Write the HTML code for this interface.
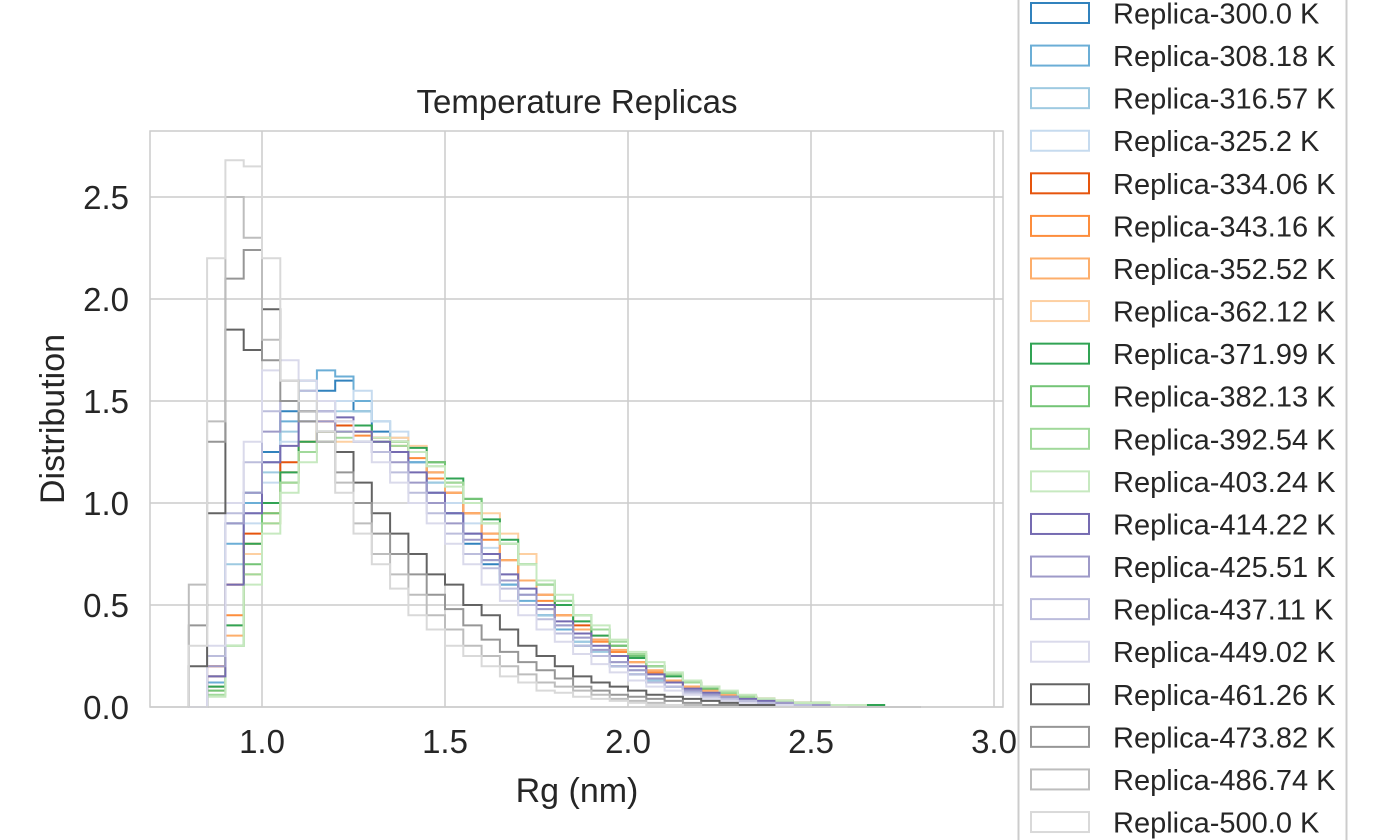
<!DOCTYPE html>
<html><head><meta charset="utf-8"><style>
body{margin:0;background:#fff;}
svg{display:block;font-family:"Liberation Sans",Arial,sans-serif;}
</style></head><body>
<svg id="chart" width="1386" height="840" xmlns="http://www.w3.org/2000/svg">
<text x="577" y="113" font-size="33" text-anchor="middle" fill="#262626">Temperature Replicas</text>
<g id="grid"></g>
<g id="series"></g>
<rect x="150" y="131" width="853" height="576" fill="none" stroke="#cccccc" stroke-width="1.5"/>
<g id="ticks"></g>
<text x="577" y="802" font-size="34" text-anchor="middle" fill="#262626">Rg (nm)</text>
<text transform="translate(64,419) rotate(-90)" font-size="34" text-anchor="middle" fill="#262626">Distribution</text>
<g id="legend">
<rect x="1018.5" y="-20" width="328" height="880" fill="#fff" stroke="#cccccc" stroke-width="2"/>
</g>
</svg>
<script>
const binStart = 0.8;
const binWidth = 0.05;
const xTicks = [1.0, 1.5, 2.0, 2.5, 3.0];
const yTicks = [0.0, 0.5, 1.0, 1.5, 2.0, 2.5];
const labels = ["Replica-300.0 K","Replica-308.18 K","Replica-316.57 K","Replica-325.2 K","Replica-334.06 K","Replica-343.16 K","Replica-352.52 K","Replica-362.12 K","Replica-371.99 K","Replica-382.13 K","Replica-392.54 K","Replica-403.24 K","Replica-414.22 K","Replica-425.51 K","Replica-437.11 K","Replica-449.02 K","Replica-461.26 K","Replica-473.82 K","Replica-486.74 K","Replica-500.0 K"];
const colors = ["#3182bd","#6baed6","#9ecae1","#c6dbef","#e6550d","#fd8d3c","#fdae6b","#fdd0a2","#31a354","#74c476","#a1d99b","#c7e9c0","#756bb1","#9e9ac8","#bcbddc","#dadaeb","#636363","#969696","#bdbdbd","#d9d9d9"];
const s300 = [0,0.15,0.9,1.05,1.25,1.45,1.6,1.55,1.6,1.45,1.35,1.3,1.2,1.05,0.95,0.8,0.7,0.6,0.5,0.45,0.38,0.3,0.25,0.2,0.16,0.12,0.1,0.08,0.06,0.05,0.04,0.03,0.02,0.01,0.01,0,0,0,0,0];
const s308 = [0,0.12,0.8,1.0,1.2,1.4,1.55,1.65,1.62,1.5,1.4,1.3,1.2,1.1,0.95,0.85,0.72,0.6,0.52,0.45,0.38,0.32,0.25,0.2,0.16,0.12,0.1,0.08,0.06,0.05,0.03,0.02,0.02,0.01,0.01,0,0,0,0,0];
const s316 = [0,0.1,0.7,0.95,1.15,1.35,1.45,1.5,1.45,1.45,1.4,1.32,1.25,1.1,1.0,0.85,0.75,0.62,0.55,0.45,0.4,0.32,0.27,0.22,0.18,0.13,0.1,0.08,0.06,0.05,0.03,0.02,0.02,0.01,0.01,0,0,0,0,0];
const s325 = [0,0.08,0.6,0.9,1.1,1.3,1.4,1.45,1.5,1.55,1.4,1.35,1.25,1.15,1.0,0.9,0.78,0.65,0.55,0.48,0.4,0.34,0.28,0.22,0.18,0.14,0.1,0.08,0.06,0.05,0.04,0.02,0.02,0.01,0.01,0,0,0,0,0];
const s334 = [0,0.2,0.6,0.85,1.0,1.2,1.3,1.4,1.38,1.35,1.32,1.3,1.25,1.15,1.05,0.95,0.85,0.72,0.62,0.55,0.45,0.4,0.33,0.27,0.22,0.17,0.13,0.1,0.08,0.06,0.05,0.04,0.03,0.02,0.02,0.01,0.01,0,0,0];
const s343 = [0,0.15,0.45,0.8,0.95,1.15,1.3,1.35,1.4,1.33,1.3,1.28,1.22,1.12,1.05,0.95,0.82,0.72,0.62,0.52,0.45,0.38,0.32,0.27,0.22,0.17,0.13,0.1,0.08,0.06,0.05,0.04,0.03,0.02,0.01,0.01,0.01,0,0,0];
const s352 = [0,0.1,0.35,0.65,0.9,1.1,1.25,1.3,1.35,1.35,1.3,1.3,1.25,1.15,1.05,0.95,0.85,0.72,0.62,0.55,0.45,0.38,0.33,0.28,0.22,0.18,0.13,0.1,0.08,0.06,0.05,0.04,0.03,0.02,0.01,0.01,0.01,0,0,0];
const s362 = [0,0.08,0.4,0.75,0.95,1.15,1.3,1.35,1.3,1.35,1.3,1.32,1.28,1.2,1.1,1.0,0.95,0.85,0.75,0.6,0.5,0.42,0.35,0.3,0.25,0.2,0.15,0.12,0.1,0.07,0.05,0.04,0.03,0.02,0.02,0.01,0.01,0,0,0];
const s371 = [0,0.1,0.4,0.8,1.0,1.15,1.3,1.35,1.35,1.38,1.3,1.3,1.27,1.2,1.12,1.02,0.92,0.82,0.7,0.6,0.5,0.42,0.35,0.3,0.24,0.2,0.15,0.12,0.09,0.07,0.05,0.04,0.03,0.02,0.02,0.01,0.01,0.01,0,0];
const s382 = [0,0.08,0.3,0.7,0.95,1.1,1.25,1.3,1.35,1.3,1.3,1.3,1.25,1.2,1.1,1.02,0.9,0.8,0.7,0.62,0.52,0.45,0.38,0.3,0.25,0.2,0.16,0.12,0.09,0.07,0.05,0.04,0.03,0.02,0.02,0.01,0.01,0,0,0];
const s392 = [0,0.06,0.3,0.65,0.9,1.1,1.25,1.3,1.32,1.35,1.3,1.28,1.25,1.18,1.1,1.0,0.9,0.8,0.7,0.6,0.52,0.45,0.38,0.32,0.26,0.2,0.16,0.12,0.1,0.07,0.05,0.04,0.03,0.02,0.02,0.01,0.01,0,0,0];
const s403 = [0,0.05,0.3,0.6,0.85,1.05,1.2,1.3,1.35,1.35,1.32,1.3,1.25,1.18,1.08,1.0,0.9,0.8,0.7,0.62,0.55,0.45,0.4,0.33,0.27,0.22,0.17,0.13,0.1,0.08,0.06,0.04,0.03,0.02,0.02,0.01,0.01,0,0,0];
const s414 = [0,0.15,0.6,0.95,1.2,1.28,1.4,1.45,1.42,1.35,1.3,1.25,1.15,1.05,0.95,0.85,0.75,0.65,0.58,0.5,0.42,0.36,0.3,0.25,0.2,0.16,0.12,0.09,0.07,0.05,0.04,0.03,0.02,0.01,0.01,0,0,0,0,0];
const s425 = [0,0.2,0.9,1.05,1.35,1.5,1.45,1.4,1.35,1.3,1.25,1.2,1.1,1.0,0.9,0.82,0.72,0.62,0.55,0.48,0.4,0.34,0.28,0.22,0.18,0.14,0.1,0.08,0.06,0.05,0.03,0.02,0.02,0.01,0.01,0,0,0,0,0];
const s437 = [0,0.25,0.95,1.2,1.45,1.5,1.55,1.45,1.4,1.3,1.25,1.15,1.05,0.95,0.85,0.75,0.68,0.58,0.5,0.43,0.36,0.3,0.25,0.2,0.16,0.12,0.1,0.07,0.05,0.04,0.03,0.02,0.01,0.01,0,0,0,0,0,0];
const s449 = [0,0.3,1.0,1.3,1.65,1.7,1.6,1.5,1.4,1.3,1.2,1.1,1.0,0.9,0.8,0.7,0.6,0.52,0.45,0.38,0.32,0.26,0.21,0.17,0.13,0.1,0.08,0.06,0.04,0.03,0.02,0.01,0.01,0,0,0,0,0,0,0];
const s461 = [0.2,0.95,1.85,1.75,1.95,1.6,1.45,1.35,1.25,1.1,0.95,0.85,0.75,0.65,0.6,0.5,0.45,0.38,0.3,0.25,0.2,0.15,0.12,0.1,0.08,0.06,0.05,0.04,0.03,0.02,0.01,0.01,0,0,0,0,0,0,0,0];
const s473 = [0.4,1.3,2.1,2.24,1.7,1.5,1.4,1.3,1.15,1.0,0.85,0.75,0.65,0.55,0.48,0.4,0.33,0.27,0.22,0.18,0.14,0.1,0.08,0.06,0.05,0.04,0.03,0.02,0.01,0.01,0,0,0,0,0,0,0,0,0,0];
const s486 = [0.6,1.4,2.5,2.3,1.8,1.6,1.45,1.3,1.1,0.9,0.75,0.65,0.55,0.45,0.38,0.3,0.25,0.2,0.16,0.12,0.1,0.08,0.06,0.04,0.03,0.02,0.01,0.01,0,0,0,0,0,0,0,0,0,0,0,0];
const s500 = [0.3,2.2,2.68,2.65,2.2,1.6,1.5,1.35,1.05,0.85,0.7,0.58,0.45,0.38,0.3,0.25,0.2,0.15,0.12,0.08,0.07,0.05,0.04,0.03,0.02,0.01,0.01,0,0,0,0,0,0,0,0,0];
const seriesList = [s300,s308,s316,s325,s334,s343,s352,s362,s371,s382,s392,s403,s414,s425,s437,s449,s461,s473,s486,s500];

const NS = "http://www.w3.org/2000/svg";
function xS(v){ return 262 + (v - 1.0) * 366; }
function yS(v){ return 707 - v * 204; }
const grid = document.getElementById('grid');
const ticks = document.getElementById('ticks');
xTicks.forEach(t => {
  const l = document.createElementNS(NS,'line');
  
  
  l.setAttribute('x1',xS(t)); l.setAttribute('x2',xS(t)); l.setAttribute('y1',131); l.setAttribute('y2',707);
  l.setAttribute('stroke','#cccccc'); l.setAttribute('stroke-width','1.5');
  grid.appendChild(l);
  const tx = document.createElementNS(NS,'text');
  
  
  tx.setAttribute('x',xS(t)); tx.setAttribute('y',753); tx.setAttribute('font-size','33');
  tx.setAttribute('text-anchor','middle'); tx.setAttribute('fill','#262626');
  tx.textContent = t.toFixed(1);
  ticks.appendChild(tx);
});
yTicks.forEach(t => {
  const l = document.createElementNS(NS,'line');
  
  
  l.setAttribute('x1',150); l.setAttribute('x2',1003); l.setAttribute('y1',yS(t)); l.setAttribute('y2',yS(t));
  l.setAttribute('stroke','#cccccc'); l.setAttribute('stroke-width','1.5');
  grid.appendChild(l);
  const tx = document.createElementNS(NS,'text');
  
  
  tx.setAttribute('x',129); tx.setAttribute('y',yS(t)+12); tx.setAttribute('font-size','33');
  tx.setAttribute('text-anchor','end'); tx.setAttribute('fill','#262626');
  tx.textContent = t.toFixed(1);
  ticks.appendChild(tx);
});
const sg = document.getElementById('series');
seriesList.forEach((vals, i) => {
  let d = 'M' + xS(binStart) + ',' + yS(0);
  vals.forEach((v, k) => {
    d += ' V' + yS(v) + ' H' + xS(binStart + (k + 1) * binWidth);
  });
  d += ' V' + yS(0);
  const p = document.createElementNS(NS,'path');
  
  
  p.setAttribute('d', d);
  p.setAttribute('fill','none');
  p.setAttribute('stroke', colors[i]);
  p.setAttribute('stroke-width','2');
  sg.appendChild(p);
});
const lg = document.getElementById('legend');
labels.forEach((lab, i) => {
  const cy = 13 + i * 42.58;
  const r = document.createElementNS(NS,'rect');
  
  
  r.setAttribute('x',1031); r.setAttribute('y',cy - 10); r.setAttribute('width',58); r.setAttribute('height',20);
  r.setAttribute('fill','none'); r.setAttribute('stroke',colors[i]); r.setAttribute('stroke-width','2');
  lg.appendChild(r);
  const tx = document.createElementNS(NS,'text');
  
  
  tx.setAttribute('x',1113); tx.setAttribute('y',cy + 10.5); tx.setAttribute('font-size','29');
  tx.setAttribute('fill','#262626');
  tx.textContent = lab;
  lg.appendChild(tx);
});
</script>
</body></html>
